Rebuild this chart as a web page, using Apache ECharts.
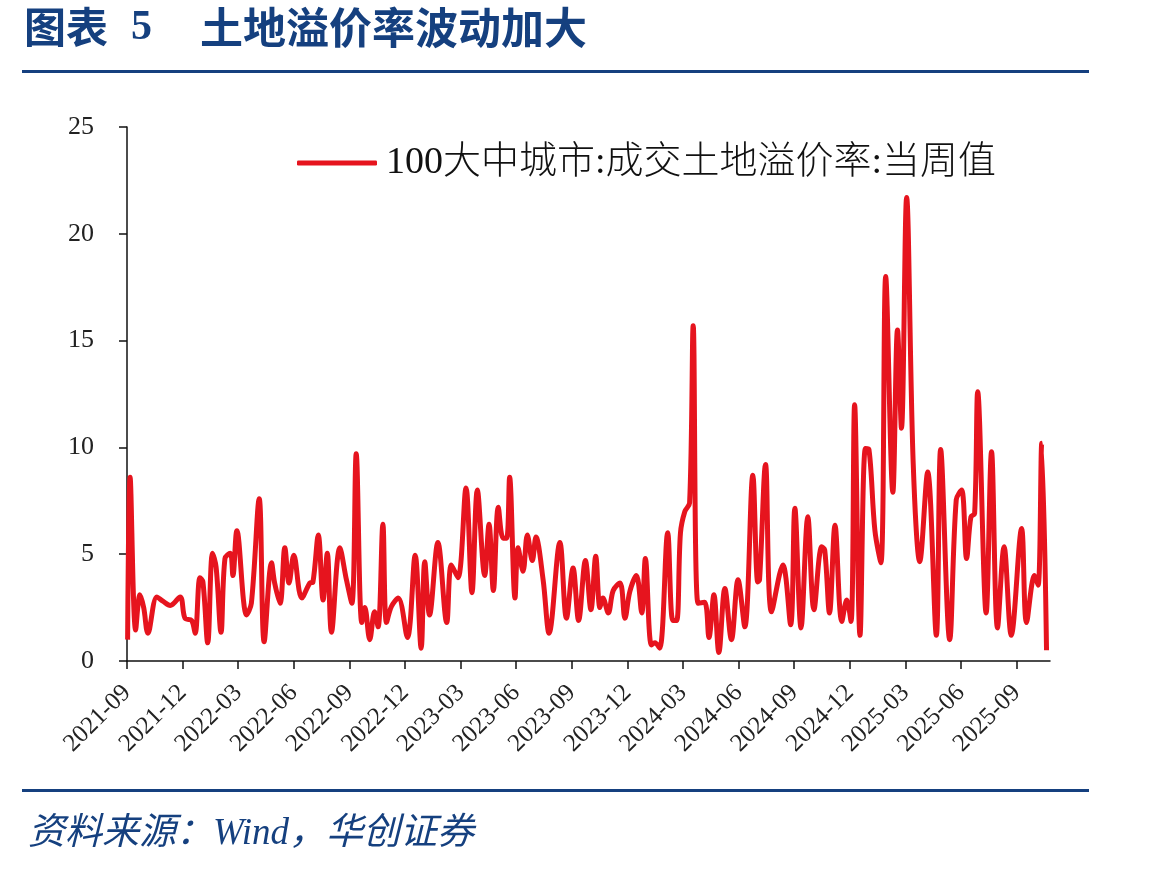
<!DOCTYPE html>
<html>
<head>
<meta charset="utf-8">
<script src="https://cdn.jsdelivr.net/npm/echarts@6/dist/echarts.min.js"></script>
<style>
html,body{margin:0;padding:0;background:#fff;}
#chart{width:1149px;height:869px;}
</style>
</head>
<body>
<div id="chart"></div>
<script>
// ---- data ----
const seriesName = '100大中城市:成交土地溢价率:当周值';
const dates = [
 '2021-09-02','2021-09-06','2021-09-15','2021-09-22','2021-09-28','2021-10-05','2021-10-20','2021-10-30',
 '2021-11-11','2021-11-27','2021-12-05','2021-12-16','2021-12-22','2021-12-30','2022-01-04','2022-01-12',
 '2022-01-20','2022-01-26','2022-02-03','2022-02-09','2022-02-17','2022-02-21','2022-02-27','2022-03-15',
 '2022-03-23','2022-04-05','2022-04-13','2022-04-25','2022-04-30','2022-05-09','2022-05-17','2022-05-24',
 '2022-06-01','2022-06-14','2022-06-27','2022-07-02','2022-07-11','2022-07-19','2022-07-26','2022-08-02',
 '2022-08-16','2022-08-27','2022-09-05','2022-09-12','2022-09-21','2022-09-26','2022-10-04','2022-10-12',
 '2022-10-18','2022-10-26','2022-11-01','2022-11-09','2022-11-20','2022-12-05','2022-12-18','2022-12-28',
 '2023-01-03','2023-01-11','2023-01-25','2023-02-08','2023-02-15','2023-02-25','2023-03-10','2023-03-20',
 '2023-03-29','2023-04-10','2023-04-17','2023-04-24','2023-05-02','2023-05-10','2023-05-16','2023-05-21',
 '2023-05-30','2023-06-04','2023-06-12','2023-06-19','2023-06-27','2023-07-03','2023-07-15','2023-07-25',
 '2023-08-12','2023-08-23','2023-09-03','2023-09-12','2023-09-23','2023-10-02','2023-10-10','2023-10-17',
 '2023-10-22','2023-10-31','2023-11-08','2023-11-19','2023-11-27','2023-12-05','2023-12-16','2023-12-25',
 '2023-12-31','2024-01-10','2024-01-16','2024-01-24','2024-02-06','2024-02-14','2024-02-20','2024-02-26',
 '2024-03-04','2024-03-12','2024-03-18','2024-03-26','2024-04-06','2024-04-13','2024-04-21','2024-04-29',
 '2024-05-09','2024-05-20','2024-05-31','2024-06-11','2024-06-24','2024-07-02','2024-07-05','2024-07-15',
 '2024-07-25','2024-08-13','2024-08-26','2024-09-02','2024-09-12','2024-09-23','2024-10-03','2024-10-16',
 '2024-10-21','2024-10-29','2024-11-07','2024-11-18','2024-11-26','2024-12-03','2024-12-09','2024-12-18',
 '2024-12-27','2025-01-02','2025-01-12','2025-01-22','2025-01-30','2025-02-10','2025-02-17','2025-02-23',
 '2025-03-03','2025-03-14','2025-03-25','2025-04-07','2025-04-21','2025-04-28','2025-05-13','2025-05-24',
 '2025-06-02','2025-06-10','2025-06-17','2025-06-23','2025-06-28','2025-07-12','2025-07-21','2025-07-31',
 '2025-08-11','2025-08-23','2025-09-09','2025-09-17','2025-09-30','2025-10-06','2025-10-12','2025-10-20'
];
const premiumRate = [
 1.0, 8.6, 1.45, 3.1, 2.5, 1.3, 3.0, 2.8,
 2.6, 3.0, 2.0, 1.9, 1.3, 3.9, 3.7, 0.85,
 5.05, 4.4, 1.35, 4.8, 5.05, 4.0, 6.1, 2.15,
 2.7, 7.6, 0.9, 4.6, 3.65, 2.7, 5.3, 3.65,
 4.95, 2.95, 3.65, 3.7, 5.9, 2.85, 5.05, 1.35,
 5.3, 3.8, 2.7, 9.7, 1.8, 2.5, 1.0, 2.3,
 1.6, 6.4, 1.8, 2.55, 2.95, 1.1, 4.95, 0.6,
 4.65, 2.15, 5.55, 1.8, 4.5, 3.9, 8.1, 3.2,
 8.0, 4.0, 6.4, 3.3, 7.2, 5.75, 5.75, 8.6,
 2.95, 5.3, 4.2, 5.9, 4.7, 5.8, 3.8, 1.3,
 5.55, 2.0, 4.35, 1.9, 4.7, 2.4, 4.9, 2.5,
 2.95, 2.25, 3.3, 3.65, 2.0, 3.25, 4.0, 2.25,
 4.8, 0.75, 0.85, 0.6, 6.0, 1.9, 1.9, 6.0,
 7.0, 7.4, 15.7, 2.7, 2.75, 1.1, 3.1, 0.4,
 3.4, 1.0, 3.8, 1.6, 8.7, 3.7, 3.8, 9.2,
 2.3, 4.5, 1.7, 7.15, 1.55, 6.75, 2.4, 5.35,
 5.2, 2.25, 6.35, 1.85, 2.85, 1.85, 12.0, 1.2,
 9.95, 9.9, 6.1, 4.6, 18.0, 7.9, 15.5, 10.9,
 21.7, 9.25, 4.65, 8.85, 1.2, 9.9, 1.0, 7.55,
 8.0, 4.8, 6.75, 6.9, 12.6, 2.25, 9.8, 1.55,
 5.35, 1.2, 6.2, 1.8, 4.0, 3.55, 10.2, 0.5
];
const xTickMonths = [0,3,6,9,12,15,18,21,24,27,30,33,36,39,42,45,48]; // months since 2021-09
const yTicks = [0,5,10,15,20,25];

// ---- helpers ----
const START_Y = 2021, START_M = 9;
function monthIndex(s) {
  const [y, m, d] = s.split('-').map(Number);
  const dim = new Date(y, m, 0).getDate();
  return (y - START_Y) * 12 + (m - START_M) + (d - 1) / dim;
}
function monthLabel(v) {
  const t = START_M - 1 + Math.round(v);
  const y = START_Y + Math.floor(t / 12);
  const m = (t % 12) + 1;
  return y + '-' + (m < 10 ? '0' + m : m);
}
const lineData = dates.map((d, i) => [monthIndex(d), premiumRate[i]]);

const BLUE = '#15407F';
const RED = '#E6141E';
const serifCJK = "'Liberation Serif', 'Times New Roman', 'Noto Sans CJK SC'";

const chart = echarts.init(document.getElementById('chart'), null, {renderer: 'canvas'});
chart.setOption({
  backgroundColor: '#ffffff',
  animation: false,
  grid: {left: 127, right: 99, top: 127, bottom: 208},
  legend: {
    left: 292, top: 139,
    icon: 'roundRect', itemWidth: 80, itemHeight: 5,
    data: [seriesName],
    textStyle: {fontFamily: serifCJK, fontSize: 38, fontWeight: 300, color: '#111', padding: [0,0,0,4]}
  },
  xAxis: {
    type: 'value', min: 0, max: 49.8,
    axisLine: {show: true, lineStyle: {color: '#111', width: 1.5}},
    axisTick: {show: true, length: 8, customValues: xTickMonths, lineStyle: {color: '#111', width: 1.5}},
    axisLabel: {
      customValues: xTickMonths, rotate: 45, margin: 28,
      fontFamily: serifCJK, fontSize: 25, color: '#222',
      formatter: v => monthLabel(v)
    },
    splitLine: {show: false}
  },
  yAxis: {
    type: 'value', min: yTicks[0], max: yTicks[yTicks.length - 1], interval: 5,
    axisLine: {show: true, lineStyle: {color: '#111', width: 1.5}},
    axisTick: {show: true, length: 8, lineStyle: {color: '#111', width: 1.5}},
    axisLabel: {margin: 33, fontFamily: serifCJK, fontSize: 26, color: '#222'},
    splitLine: {show: false}
  },
  series: [{
    name: seriesName, type: 'line', data: lineData,
    showSymbol: false, symbol: 'none', smooth: 0.35,
    lineStyle: {color: RED, width: 5},
    itemStyle: {color: RED}
  }],
  graphic: [
    {type: 'text', left: 24, top: 6, style: {text: '图表', fill: BLUE, font: "bold 42px 'Noto Sans CJK SC'"}},
    {type: 'text', left: 131, top: 7, style: {text: '5', fill: BLUE, font: "bold 42px 'Liberation Serif'"}},
    {type: 'text', left: 200, top: 6, style: {text: '土地溢价率波动加大', fill: BLUE, font: "bold 43px 'Noto Sans CJK SC'"}},
    {type: 'rect', shape: {x: 22, y: 70, width: 1067, height: 3}, style: {fill: BLUE}},
    {type: 'rect', shape: {x: 22, y: 789, width: 1067, height: 3}, style: {fill: BLUE}},
    {type: 'text', left: 28, top: 816, style: {text: '资料来源：Wind，华创证券', fill: BLUE, font: "italic 37px 'Liberation Serif', 'Noto Sans CJK SC'"}}
  ]
});
</script>
</body>
</html>
